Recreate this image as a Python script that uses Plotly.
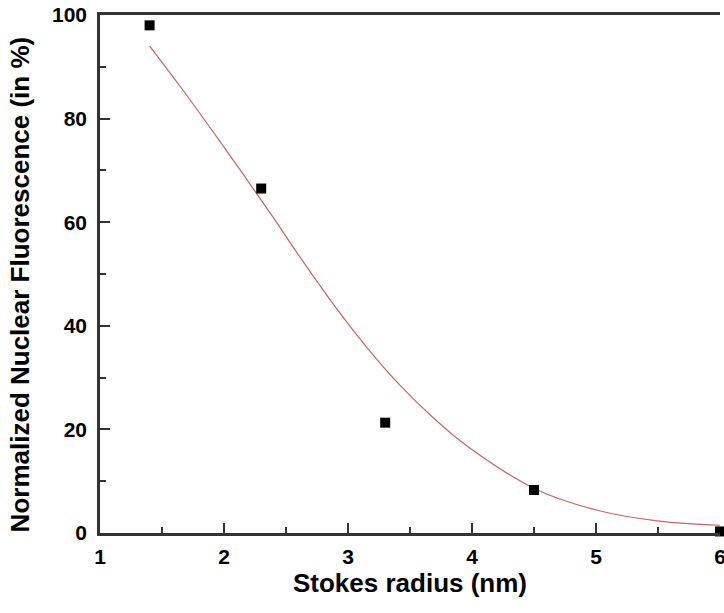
import plotly.graph_objects as go

# Measured data points
radius_nm = [1.4, 2.3, 3.3, 4.5, 6.0]
fluorescence_pct = [98.0, 66.5, 21.3, 8.3, 0.3]

# Fitted curve
fit_x = [1.4, 1.65, 1.97, 2.38, 2.62, 2.89, 3.16, 3.42, 3.69, 3.96, 4.51, 5.01, 5.51, 6.0]
fit_y = [94.0, 86.1, 75.5, 61.5, 53.0, 43.9, 35.6, 28.5, 22.2, 16.8, 8.5, 4.4, 2.3, 1.5]

x_ticks = [1, 2, 3, 4, 5, 6]
y_ticks = [0, 20, 40, 60, 80, 100]

axis_color = "#333333"
font_family = "Liberation Sans, Arial, sans-serif"

fig = go.Figure()
fig.add_trace(go.Scatter(
    x=fit_x, y=fit_y, mode="lines", line_shape="spline",
    line=dict(color="rgb(205,100,100)", width=1.2), showlegend=False,
    hoverinfo="skip",
))
fig.add_trace(go.Scatter(
    x=radius_nm, y=fluorescence_pct, mode="markers",
    marker=dict(symbol="square", size=10, color="black"),
    showlegend=False, cliponaxis=False,
))

fig.update_layout(
    width=724, height=613,
    margin=dict(l=100, r=4, t=15, b=80),
    plot_bgcolor="white", paper_bgcolor="white",
    font=dict(family=font_family, color="black"),
    xaxis=dict(
        range=[1, 6], tickvals=x_ticks, ticktext=[str(t) for t in x_ticks],
        ticks="inside", ticklen=10, tickwidth=2, tickcolor=axis_color,
        minor=dict(ticks="inside", ticklen=6, tickwidth=2, tickcolor=axis_color, dtick=0.5),
        showline=True, linewidth=2.5, linecolor=axis_color, mirror=True,
        showgrid=False, zeroline=False,
        tickfont=dict(size=21, family=font_family, weight="bold"),
        ticklabelstandoff=3, ticklabeloverflow="allow",
        title=dict(text="<b>Stokes radius (nm)</b>", font=dict(size=26, family=font_family), standoff=4),
        automargin=False,
    ),
    yaxis=dict(
        range=[0, 100], tickvals=y_ticks, ticktext=[str(t) for t in y_ticks],
        ticks="inside", ticklen=10, tickwidth=2, tickcolor=axis_color,
        minor=dict(ticks="inside", ticklen=6, tickwidth=2, tickcolor=axis_color, dtick=10),
        showline=True, linewidth=2.5, linecolor=axis_color, mirror=False,
        showgrid=False, zeroline=False,
        tickfont=dict(size=21, family=font_family, weight="bold"),
        ticklabelstandoff=6, ticklabeloverflow="allow",
        automargin=False,
    ),
    annotations=[dict(
        text="<b>Normalized Nuclear Fluorescence (in %)</b>",
        textangle=-90, xref="paper", yref="paper", x=-0.129, y=0.48,
        xanchor="center", yanchor="middle", showarrow=False,
        font=dict(size=26, family=font_family, color="black"),
    )],
)

fig.write_html(
    "out.html",
    config={"displayModeBar": False},
    post_script="document.body.style.margin='0';document.body.style.overflow='hidden';",
)
